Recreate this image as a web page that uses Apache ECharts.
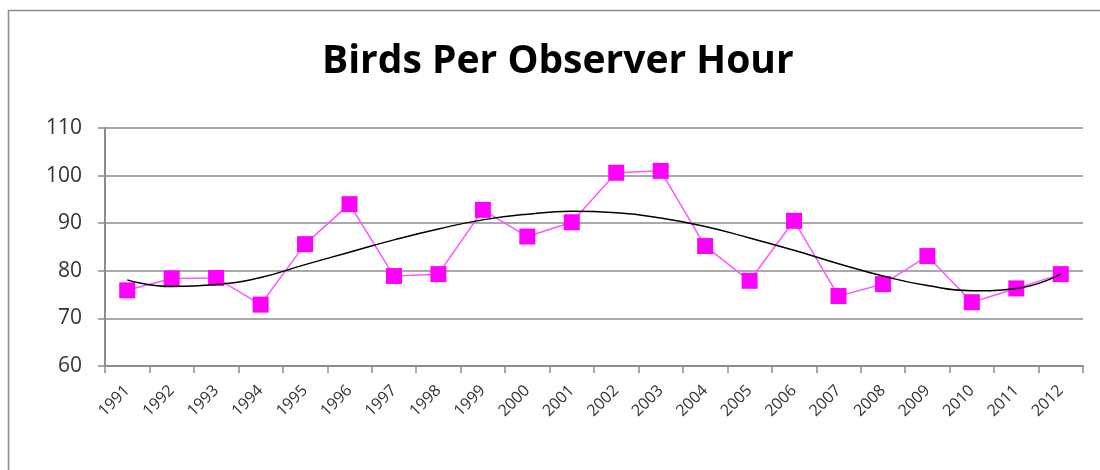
<!DOCTYPE html>
<html>
<head>
<meta charset="utf-8">
<script src="https://cdn.jsdelivr.net/npm/echarts@6/dist/echarts.min.js"></script>
<style>
html,body{margin:0;padding:0;background:#fff;}
#chart{width:1100px;height:470px;}
</style>
</head>
<body>
<div id="chart"></div>
<script>
const years = ['1991','1992','1993','1994','1995','1996','1997','1998','1999','2000','2001','2002','2003','2004','2005','2006','2007','2008','2009','2010','2011','2012'];
const birdsPerHour = [75.9, 78.4, 78.5, 72.9, 85.6, 94.0, 78.9, 79.3, 92.8, 87.2, 90.2, 100.6, 101.0, 85.2, 77.9, 90.5, 74.7, 77.2, 83.1, 73.4, 76.3, 79.3];
const trendValues = [78.1, 76.7, 77.1, 78.6, 81.3, 83.9, 86.5, 88.8, 90.7, 91.9, 92.5, 92.2, 91.1, 89.3, 86.9, 84.3, 81.5, 78.9, 76.9, 75.8, 76.3, 79.3];
const yTicks = {min: 60, max: 110, interval: 10};
const titleText = 'Birds Per Observer Hour';

const chart = echarts.init(document.getElementById('chart'), null, {renderer: 'canvas'});
chart.setOption({
  backgroundColor: '#ffffff',
  animation: false,
  title: {
    text: titleText,
    left: 317,
    top: 37,
    textStyle: {fontFamily: 'Open Sans', fontWeight: 'bold', fontSize: 39, color: '#000'}
  },
  graphic: [{
    type: 'rect',
    shape: {x: 8.5, y: 10.5, width: 1100, height: 470},
    style: {fill: 'none', stroke: '#8c8c8c', lineWidth: 1.5},
    silent: true
  }],
  grid: {left: 105, right: 17, top: 128, bottom: 104},
  xAxis: {
    type: 'category',
    data: years,
    boundaryGap: true,
    axisLine: {lineStyle: {color: '#8c8c8c', width: 2}},
    axisTick: {show: true, length: 7, lineStyle: {color: '#8c8c8c', width: 1.5}},
    axisLabel: {rotate: 45, fontSize: 16, color: '#333333', fontFamily: 'Open Sans', margin: 22, interval: 0}
  },
  yAxis: {
    type: 'value',
    min: yTicks.min, max: yTicks.max, interval: yTicks.interval,
    axisLine: {show: true, lineStyle: {color: '#8c8c8c', width: 2}},
    axisTick: {show: true, length: 7, lineStyle: {color: '#8c8c8c', width: 1.5}},
    axisLabel: {fontSize: 21, color: '#333333', fontFamily: 'Open Sans', margin: 23},
    splitLine: {show: true, lineStyle: {color: '#8c8c8c', width: 1.5}}
  },
  series: [
    {
      name: 'Birds Per Observer Hour',
      type: 'line',
      data: birdsPerHour,
      symbol: 'rect',
      symbolSize: 16,
      lineStyle: {color: '#ff55ff', width: 1.5},
      itemStyle: {color: '#ff00ff'},
      z: 2
    },
    {
      name: 'Trend',
      type: 'line',
      data: trendValues,
      smooth: 0.5,
      symbol: 'none',
      lineStyle: {color: '#000000', width: 1.5},
      z: 3
    }
  ]
});
</script>
</body>
</html>
